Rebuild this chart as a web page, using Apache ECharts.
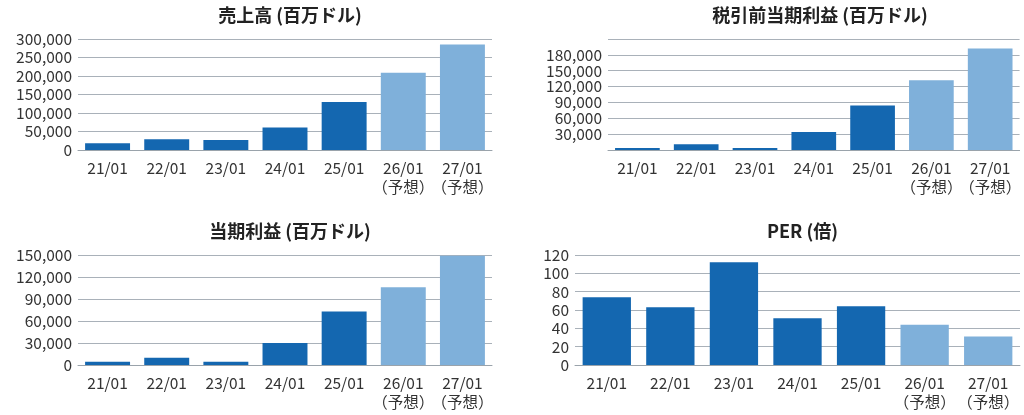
<!DOCTYPE html>
<html><head><meta charset="utf-8">
<script src="https://cdn.jsdelivr.net/npm/echarts@6/dist/echarts.min.js"></script>
<style>html,body{margin:0;background:#fff}#c{width:1024px;height:415px}</style>
</head><body><div id="c"></div>
<script>
const categories = ["21/01", "22/01", "23/01", "24/01", "25/01", "26/01\n（予想）", "27/01\n（予想）"];
const sales = [18000, 29000, 27000, 61000, 130000, 209000, 285000];
const pretaxProfit = [4000, 11000, 4000, 34000, 84000, 132000, 192000];
const netProfit = [4400, 9800, 4400, 30000, 73000, 106000, 149000];
const per = [74, 63, 112, 51, 64, 44, 31];
const forecastFrom = 5;

const dark = "#1467b0", light = "#7fb0da";
const myChart = echarts.init(document.getElementById("c"));
const font = "'Noto Sans CJK JP', 'Noto Sans', sans-serif";

const panels = [
  { title: "売上高 (百万ドル)", data: sales, max: 300000, interval: 50000, grid: { left: 78, width: 414, top: 39, height: 111 } },
  { title: "税引前当期利益 (百万ドル)", data: pretaxProfit, max: 210000, interval: 30000, hideEnds: true, grid: { left: 608, width: 414, top: 39, height: 111 } },
  { title: "当期利益 (百万ドル)", data: netProfit, max: 150000, interval: 30000, grid: { left: 78, width: 414, top: 255, height: 110 } },
  { title: "PER (倍)", data: per, max: 120, interval: 20, grid: { left: 575, width: 445, top: 255, height: 110 } },
];

const option = {
  animation: false,
  textStyle: { fontFamily: font },
  title: panels.map((p) => ({
    text: p.title,
    left: p.grid.left + p.grid.width / 2,
    textAlign: "center",
    top: p.grid.top - 38,
    textStyle: { fontSize: 18, fontWeight: "bold", color: "#222", fontFamily: font },
  })),
  grid: panels.map((p) => p.grid),
  xAxis: panels.map((p, i) => ({
    type: "category",
    gridIndex: i,
    data: categories,
    axisTick: { show: false },
    axisLine: { lineStyle: { color: "#9aa3ab" } },
    axisLabel: { color: "#333", fontSize: 15.5, margin: 9, lineHeight: 19, interval: 0 },
  })),
  yAxis: panels.map((p, i) => ({
    type: "value",
    gridIndex: i,
    min: 0,
    max: p.max,
    interval: p.interval,
    splitLine: { lineStyle: { color: "#a9b1b9" } },
    axisLabel: {
      color: "#333",
      fontSize: 15.5,
      margin: 6,
      lineHeight: 15,
      formatter: (v) => (p.hideEnds && (v === 0 || v === p.max) ? "" : v.toLocaleString("en-US")),
    },
  })),
  series: panels.map((p, i) => ({
    type: "bar",
    xAxisIndex: i,
    yAxisIndex: i,
    barCategoryGap: "24%",
    data: p.data.map((v, k) => ({ value: v, itemStyle: { color: k >= forecastFrom ? light : dark } })),
  })),
};
myChart.setOption(option);
</script></body></html>
